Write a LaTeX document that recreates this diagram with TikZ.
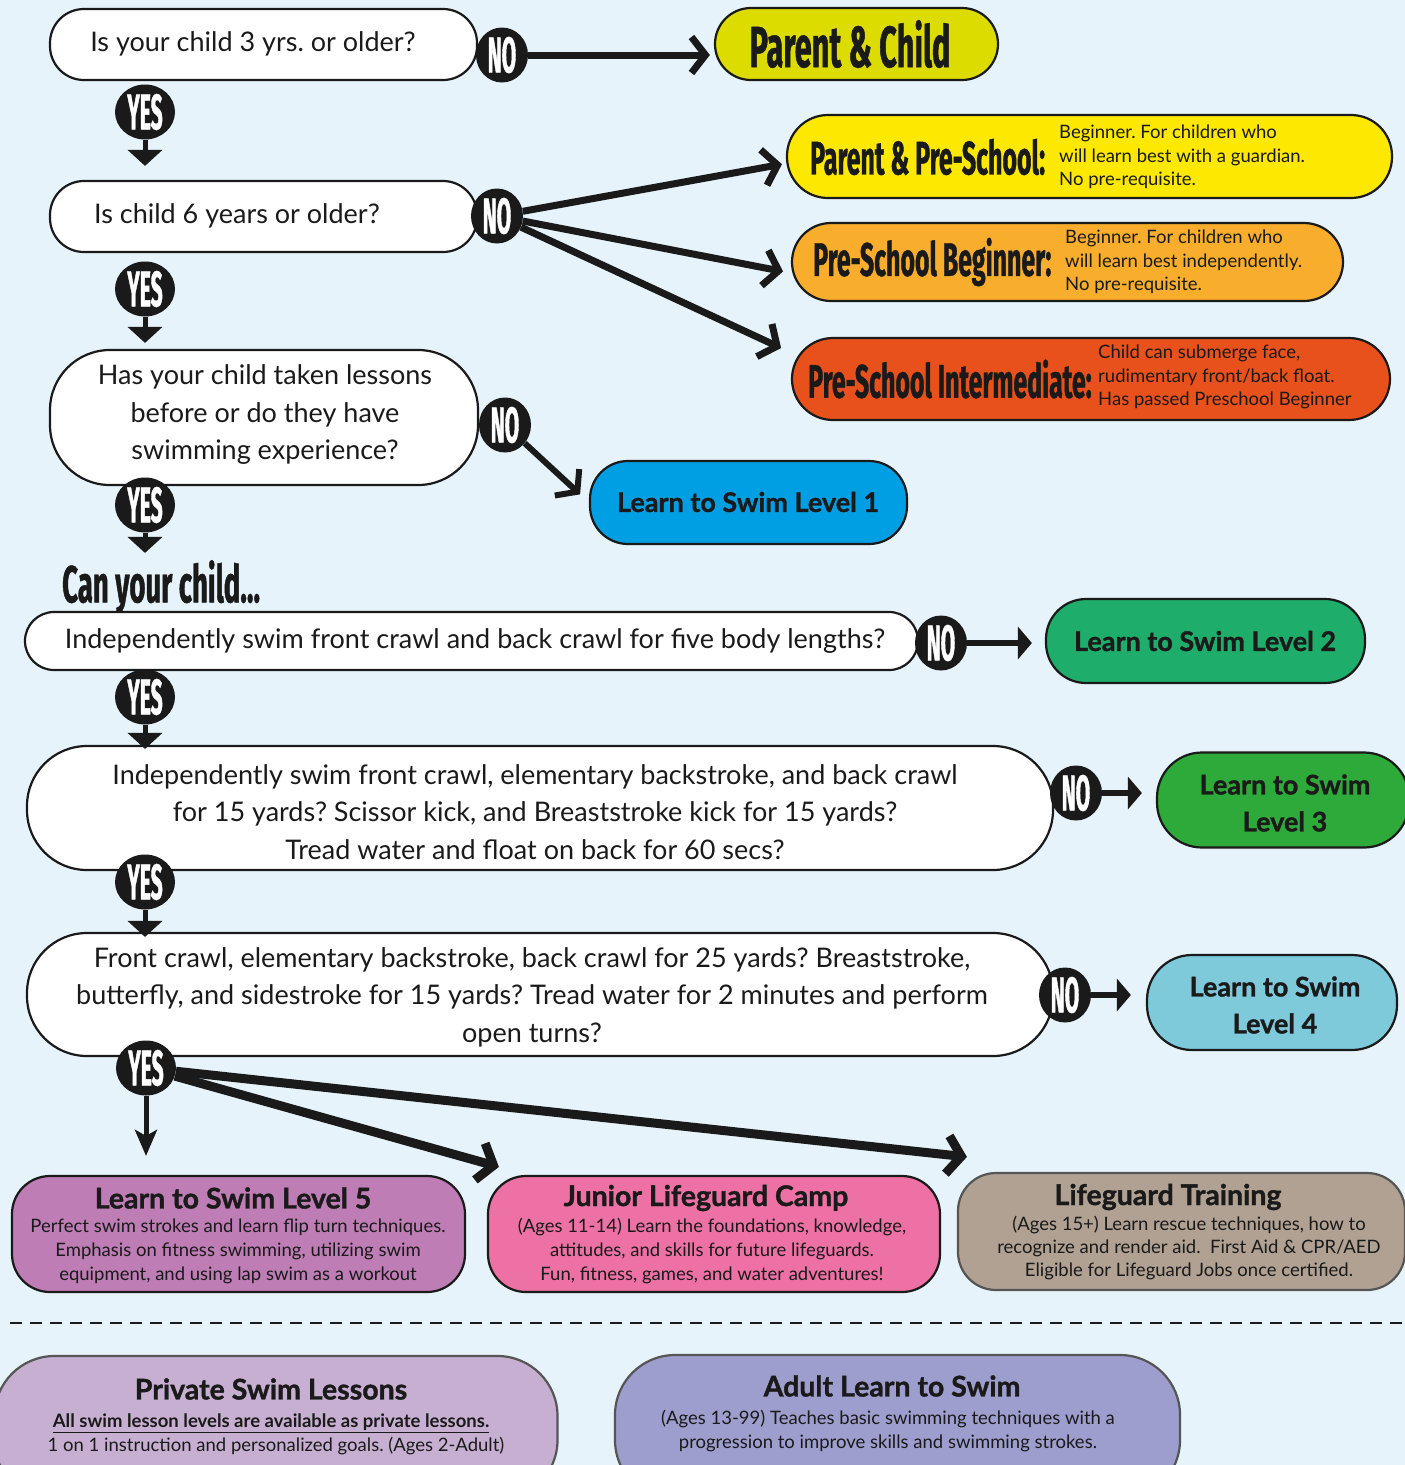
\documentclass[tikz,border=0pt]{standalone}
\usepackage{fontspec}
\setmainfont{Lato}
\newfontfamily\heavyf[FakeBold=1.2]{Lato}
\newfontfamily\condf[FakeStretch=0.53,FakeBold=0.8]{Fira Sans Bold}
\newfontfamily\condb[FakeStretch=0.42,FakeBold=0.8]{Fira Sans Bold}
\usetikzlibrary{arrows.meta,shapes.geometric}
\definecolor{bg}{HTML}{E6F3FA}
\definecolor{ink}{HTML}{1A1A1A}
\definecolor{cPC}{HTML}{DCDC00}
\definecolor{cPPS}{HTML}{FCE800}
\definecolor{cPSB}{HTML}{F8AE2C}
\definecolor{cPSI}{HTML}{E8501C}
\definecolor{cLa}{HTML}{009FE3}
\definecolor{cLb}{HTML}{1EAD6A}
\definecolor{cLc}{HTML}{2EAA3A}
\definecolor{cLd}{HTML}{7ECADB}
\definecolor{cLe}{HTML}{BE7DB5}
\definecolor{cJLC}{HTML}{EE71A6}
\definecolor{cLT}{HTML}{B0A193}
\definecolor{cPriv}{HTML}{C7AFD2}
\definecolor{cAdult}{HTML}{9E9ECE}
\definecolor{gborder}{HTML}{555555}
\newcommand\myfs[2]{\fontsize{#1}{#2}\selectfont}
\frenchspacing
\begin{document}
\frenchspacing
\begin{tikzpicture}[x=1pt,y=-1pt,
  pill/.style={draw=ink, line width=2.2pt, rounded corners=#1, inner sep=0pt},
  pill/.default=30,
  qtext/.style={font=\myfs{27}{37.5}, align=center, text=ink, inner sep=0pt},
  ctitle/.style={font=\condf\myfs{47}{47}, text=ink, anchor=west, inner sep=0pt},
  desc/.style={font=\myfs{18.5}{23.5}, align=left, anchor=west, text=ink, inner sep=0pt},
  lvl/.style={font=\heavyf\bfseries\myfs{27}{37}, align=center, text=ink, inner sep=0pt},
  btitle/.style={font=\heavyf\bfseries\myfs{28.5}{30}, text=ink, inner sep=0pt},
  bdesc/.style={font=\myfs{18.5}{24}, align=center, text=ink, inner sep=0pt},
  badge/.style={ellipse, fill=ink, minimum width=52pt, minimum height=55pt, inner sep=0pt},
  btxt/.style={font=\condb\myfs{50}{50}, text=white, inner sep=0pt},
  yesarrow/.style={draw=ink, line width=5pt, -{Triangle[width=34pt,length=16pt]}},
  chevarrow/.style={draw=ink, line width=7pt, -{Straight Barb[length=14pt,width=36pt]}},
  triarrow/.style={draw=ink, line width=6pt, -{Triangle[width=32pt,length=14pt]}},
  thickchev/.style={draw=ink, line width=9pt, -{Straight Barb[length=14pt,width=38pt]}}
]
\useasboundingbox (0,0) rectangle (1405,1465);
\fill[bg] (0,0) rectangle (1405,1465);
\clip (0,0) rectangle (1405,1465);

% ---------- question boxes ----------
\node[pill=34, fill=white, minimum width=427pt, minimum height=71pt] (q1) at (263.5,44.5) {};
\node[qtext] (q1t) at (253,44) {Is your child 3 yrs. or older?};
\node[pill=34, fill=white, minimum width=427pt, minimum height=71pt] (q2) at (263.5,216.5) {};
\node[qtext] (q2t) at (237,216) {Is child 6 years or older?};
\node[pill=60, fill=white, minimum width=428pt, minimum height=135pt] (q3) at (264,417.5) {};
\node[qtext] (q3t) at (265,415) {Has your child taken lessons\\before or do they have\\swimming experience?};
\node[font=\condf\myfs{52}{52}, text=ink, inner sep=0pt, anchor=west] (can) at (62,587) {Can your child...};
\node[pill=29, fill=white, minimum width=893pt, minimum height=58pt] (q4) at (471.5,641) {};
\node[qtext] (q4t) at (475,641) {Independently swim front crawl and back crawl for five body lengths?};
\node[pill=60, fill=white, minimum width=1026pt, minimum height=124pt] (q5) at (540,808) {};
\node[qtext] (q5t) at (535,812) {Independently swim front crawl, elementary backstroke, and back crawl\\for 15 yards? Scissor kick, and Breaststroke kick for 15 yards?\\Tread water and float on back for 60 secs?};
\node[pill=60, fill=white, minimum width=1026pt, minimum height=123pt] (q6) at (540,994.5) {};
\node[qtext] (q6t) at (532,997) {Front crawl, elementary backstroke, back crawl for 25 yards? Breaststroke,\\butterfly, and sidestroke for 15 yards? Tread water for 2 minutes and perform\\open turns?};

% ---------- outcome boxes ----------
\node[pill=36, fill=cPC, minimum width=283pt, minimum height=72pt] (pc) at (856.5,44) {};
\node[font=\condf\myfs{58}{58}, text=ink, inner sep=0pt] (pct) at (850,44) {Parent \& Child};

\node[pill=41, fill=cPPS, minimum width=605pt, minimum height=83pt] (pps) at (1089.5,156.5) {};
\node[ctitle] (ppst) at (810,157) {Parent \& Pre-School:};
\node[desc] (ppsd) at (1059,157) {Beginner. For children who\\will learn best with a guardian.\\No pre-requisite.};

\node[pill=39, fill=cPSB, minimum width=551pt, minimum height=78pt] (psb) at (1067.5,262) {};
\node[ctitle] (psbt) at (813,262) {Pre-School Beginner:};
\node[desc] (psbd) at (1065,262) {Beginner. For children who\\will learn best independently.\\No pre-requisite.};

\node[pill=41, fill=cPSI, minimum width=598pt, minimum height=82pt] (psi) at (1091,379) {};
\node[ctitle] (psit) at (808,379) {Pre-School Intermediate:};
\node[desc] (psid) at (1098,377) {Child can submerge face,\\rudimentary front/back float.\\Has passed Preschool Beginner};

\node[pill=38, fill=cLa, minimum width=317pt, minimum height=83pt] (la) at (748.5,502.5) {};
\node[lvl] (lat) at (748,502) {Learn to Swim Level 1};
\node[pill=40, fill=cLb, minimum width=319pt, minimum height=84pt] (lb) at (1205.5,641) {};
\node[lvl] (lbt) at (1205,641) {Learn to Swim Level 2};
\node[pill=45, fill=cLc, minimum width=252pt, minimum height=95pt] (lc) at (1283,800) {};
\node[lvl] (lct) at (1285,803) {Learn to Swim\\Level 3};
\node[pill=45, fill=cLd, minimum width=250pt, minimum height=95pt] (ld) at (1272,1002.5) {};
\node[lvl] (ldt) at (1275,1005) {Learn to Swim\\Level 4};

\node[pill=38, fill=cLe, minimum width=453pt, minimum height=116pt] (le) at (238.5,1234) {};
\node[btitle] (let) at (233,1198) {Learn to Swim Level 5};
\node[bdesc] (led) at (238,1251) {Perfect swim strokes and learn flip turn techniques.\\Emphasis on fitness swimming, utilizing swim\\equipment, and using lap swim as a workout};
\node[pill=38, fill=cJLC, minimum width=452pt, minimum height=116pt] (jlc) at (714,1234) {};
\node[btitle] (jlct) at (706,1198) {Junior Lifeguard Camp};
\node[bdesc] (jlcd) at (712,1251) {(Ages 11-14) Learn the foundations, knowledge,\\attitudes, and skills for future lifeguards.\\Fun, fitness, games, and water adventures!};
\node[pill=38, draw=gborder, fill=cLT, minimum width=447pt, minimum height=117pt] (lt) at (1181.5,1231.5) {};
\node[btitle] (ltt) at (1168,1197) {Lifeguard Training};
\node[bdesc, font=\myfs{18.5}{23}] (ltd) at (1189,1248) {(Ages 15+) Learn rescue techniques, how to\\recognize and render aid.\ \ First Aid \& CPR/AED\\Eligible for Lifeguard Jobs once certified.};

% ---------- separator ----------
\coordinate (dl) at (10,1323);
\coordinate (dr) at (1405,1323);
\draw[ink, line width=2.5pt, dash pattern=on 12pt off 8pt] (dl) -- (dr);

\node[pill=60, draw=gborder, fill=cPriv, minimum width=563pt, minimum height=144pt] (priv) at (276,1428) {};
\node[btitle] (privt) at (271,1389) {Private Swim Lessons};
\node[bdesc, font=\bfseries\myfs{18.5}{24}] (privd1) at (271,1423) {\underline{All swim lesson levels are available as private lessons.}};
\node[bdesc] (privd2) at (276,1446) {1 on 1 instruction and personalized goals. (Ages 2-Adult)};
\node[pill=60, draw=gborder, fill=cAdult, minimum width=565pt, minimum height=145pt] (adult) at (897.5,1427.5) {};
\node[btitle] (adultt) at (892,1386) {Adult Learn to Swim};
\node[bdesc] (adultd) at (888,1431) {(Ages 13-99) Teaches basic swimming techniques with a\\progression to improve skills and swimming strokes.};

% ---------- badges ----------
\node[badge] (n1) at (502,55) {};   \node[btxt] (n1t) at (n1) {NO};
\node[badge] (n2) at (497,216) {};  \node[btxt] (n2t) at (n2) {NO};
\node[badge] (n3) at (505,425) {};  \node[btxt] (n3t) at (n3) {NO};
\node[badge] (n4) at (941,643) {};  \node[btxt] (n4t) at (n4) {NO};
\node[badge] (n5) at (1076,793) {}; \node[btxt] (n5t) at (n5) {NO};
\node[badge] (n6) at (1065,995) {}; \node[btxt] (n6t) at (n6) {NO};
\node[badge, minimum width=60pt] (y1) at (145,112) {};  \node[btxt] (y1t) at (y1) {YES};
\node[badge, minimum width=60pt] (y2) at (145,289) {};  \node[btxt] (y2t) at (y2) {YES};
\node[badge, minimum width=60pt] (y3) at (145,505) {};  \node[btxt] (y3t) at (y3) {YES};
\node[badge, minimum width=60pt] (y4) at (145,697) {};  \node[btxt] (y4t) at (y4) {YES};
\node[badge, minimum width=60pt] (y5) at (145,882) {};  \node[btxt] (y5t) at (y5) {YES};
\node[badge, minimum width=60pt] (y6) at (146,1068) {}; \node[btxt] (y6t) at (y6) {YES};

% ---------- connectors ----------
\draw[chevarrow, shorten >=4pt] (n1.east) -- (n1.east -| pc.west);
\draw[chevarrow, shorten >=4pt] (n2) -- ([yshift=-7pt]pps.west);
\draw[chevarrow, shorten >=8pt] (n2) -- ([yshift=-11pt]psb.west);
\draw[chevarrow, shorten >=2pt] (n2) -- ([xshift=-8pt,yshift=-12pt]psi.north west);
\draw[chevarrow, line width=6pt, shorten >=12pt] (n3) -- (la.west);
\draw[triarrow, shorten >=13pt] (n4.east) -- (n4.east -| lb.west);
\draw[triarrow, shorten >=14pt] (n5.east) -- (n5.east -| lc.west);
\draw[triarrow, shorten >=15pt] (n6.east) -- (n6.east -| ld.west);

\draw[yesarrow, shorten >=14pt] (y1.south) -- (y1.south |- q2.north);
\draw[yesarrow, shorten >=6pt] (y2.south) -- (y2.south |- q3.north);
\draw[yesarrow, shorten >=7pt] (y3.south) -- (y3.south |- can.north);
\draw[yesarrow, shorten >=-4pt] (y4.south) -- (y4.south |- q5.north);
\draw[yesarrow, shorten >=-5pt] (y5.south) -- (y5.south |- q6.north);
\draw[draw=ink, line width=5pt, -{Stealth[width=22pt,length=26pt,inset=6pt]}, shorten >=19pt] (y6.south) -- (y6.south |- le.north);
\draw[thickchev] (y6) -- ([xshift=12pt,yshift=8pt]jlc.north west);
\draw[thickchev] (y6) -- ([xshift=10pt,yshift=15pt]lt.north west);
\end{tikzpicture}
\end{document}
